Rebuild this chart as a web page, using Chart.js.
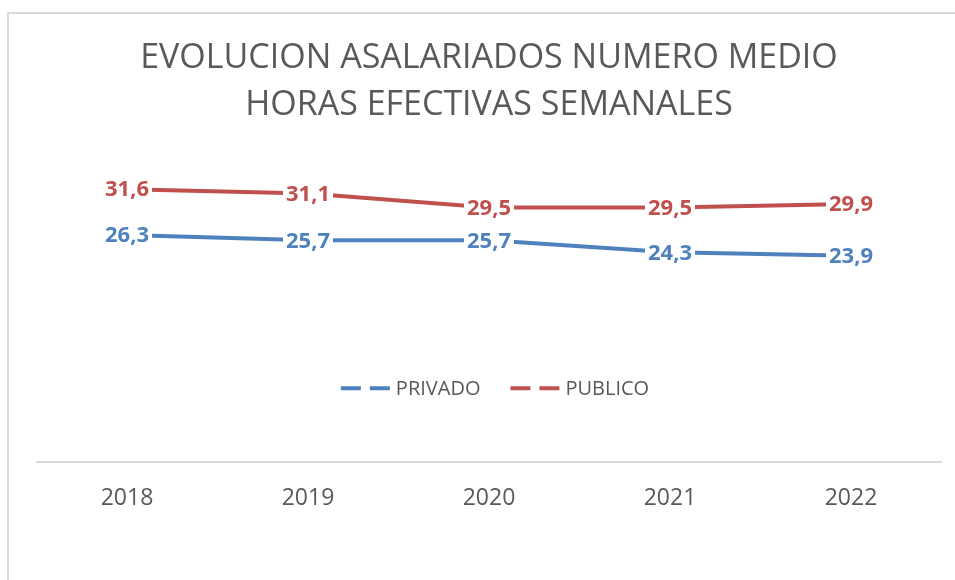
<!DOCTYPE html>
<html lang="es">
<head>
  <meta charset="UTF-8" />
  <title>Evolucion asalariados numero medio horas efectivas semanales</title>
  <script src="https://cdn.jsdelivr.net/npm/chart.js"></script>
  <style>
    body {
      margin: 0;
      background: #fff;
      font-family: "Open Sans", sans-serif;
    }
    .wrap {
      position: relative;
      width: 955px;
      height: 580px;
      overflow: hidden;
    }
    .frame {
      position: absolute;
      left: 7px;
      top: 12px;
      width: 1000px;
      height: 700px;
      border: 2px solid #d9d9d9;
    }
    canvas {
      position: absolute;
      left: 0;
      top: 0;
    }
  </style>
</head>
<body>
  <div class="wrap">
    <div class="frame"></div>
    <canvas id="horasChart" width="955" height="580"></canvas>
  </div>
  <script>
    const years = ["2018", "2019", "2020", "2021", "2022"];
    const privado = [26.3, 25.7, 25.7, 24.3, 23.9];
    const publico = [31.6, 31.1, 29.5, 29.5, 29.9];
    const seriesNames = ["PRIVADO", "PUBLICO"];
    const seriesColors = ["#4F81BD", "#C0504D"];
    const titleLines = ["EVOLUCION ASALARIADOS NUMERO MEDIO", "HORAS EFECTIVAS SEMANALES"];

    // labels centred on each point, white box hides the line underneath
    const pointLabels = {
      id: "pointLabels",
      afterDatasetsDraw(chart) {
        const c = chart.ctx;
        c.save();
        c.font = "bold 22px 'Open Sans', sans-serif";
        c.textAlign = "center";
        c.textBaseline = "middle";
        chart.data.datasets.forEach((ds, i) => {
          chart.getDatasetMeta(i).data.forEach((pt, j) => {
            const txt = ds.data[j].toFixed(1).replace(".", ",");
            const w = c.measureText(txt).width;
            c.fillStyle = "#fff";
            c.fillRect(pt.x - w / 2 - 3, pt.y - 12, w + 6, 24);
            c.fillStyle = ds.borderColor;
            c.fillText(txt, pt.x, pt.y + 1);
          });
        });
        c.restore();
      }
    };

    // legend sits inside the plot, like the original
    const innerLegend = {
      id: "innerLegend",
      afterDraw(chart) {
        const c = chart.ctx;
        const area = chart.chartArea;
        const y = area.top + (area.bottom - area.top) * 0.755;
        const symW = 49, symGap = 6, itemGap = 30;
        c.save();
        c.font = "20px 'Open Sans', sans-serif";
        const widths = chart.data.datasets.map(ds => symW + symGap + c.measureText(ds.label).width);
        const total = widths.reduce((a, b) => a + b, 0) + itemGap * (widths.length - 1);
        let x = (area.left + area.right) / 2 - total / 2 + 6;
        chart.data.datasets.forEach((ds, i) => {
          c.strokeStyle = ds.borderColor;
          c.lineWidth = 4;
          c.setLineDash([20, 9]);
          c.beginPath();
          c.moveTo(x, y);
          c.lineTo(x + symW, y);
          c.stroke();
          c.setLineDash([]);
          c.fillStyle = "#595959";
          c.textAlign = "left";
          c.textBaseline = "middle";
          c.fillText(ds.label, x + symW + symGap, y + 1);
          x += widths[i] + itemGap;
        });
        c.restore();
      }
    };

    new Chart(document.getElementById("horasChart").getContext("2d"), {
      type: "line",
      data: {
        labels: years,
        datasets: [
          {
            label: seriesNames[0],
            data: privado,
            borderColor: seriesColors[0],
            backgroundColor: seriesColors[0],
            borderWidth: 4,
            pointRadius: 0,
            tension: 0
          },
          {
            label: seriesNames[1],
            data: publico,
            borderColor: seriesColors[1],
            backgroundColor: seriesColors[1],
            borderWidth: 4,
            pointRadius: 0,
            tension: 0
          }
        ]
      },
      options: {
        responsive: false,
        animation: false,
        layout: {
          padding: { left: 36.5, right: 13.5, top: 35, bottom: 46 }
        },
        plugins: {
          legend: { display: false },
          tooltip: { enabled: false },
          title: {
            display: true,
            text: titleLines,
            color: "#595959",
            font: { family: "'Open Sans', sans-serif", size: 34, weight: "normal", lineHeight: 1.38 },
            padding: { top: 0, bottom: 31 }
          }
        },
        scales: {
          x: {
            offset: true,
            grid: { display: false, drawTicks: false },
            border: { display: true, color: "#d9d9d9", width: 2 },
            ticks: {
              color: "#595959",
              padding: 22,
              font: { family: "'Open Sans', sans-serif", size: 23 }
            }
          },
          y: {
            display: false,
            min: 0,
            max: 35
          }
        }
      },
      plugins: [pointLabels, innerLegend]
    });
  </script>
</body>
</html>
